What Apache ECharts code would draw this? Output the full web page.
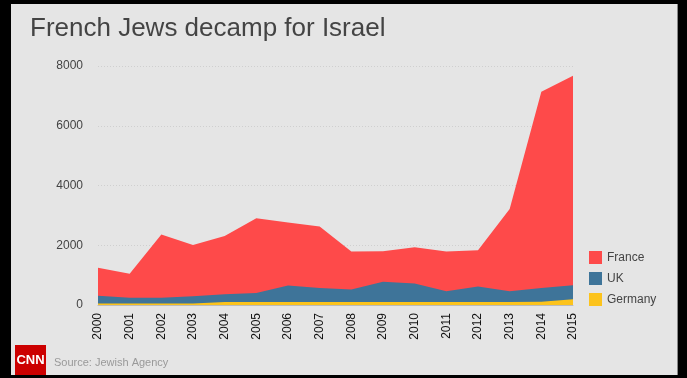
<!DOCTYPE html>
<html><head><meta charset="utf-8">
<script src="https://cdn.jsdelivr.net/npm/echarts@6/dist/echarts.min.js"></script>
<style>html,body{margin:0;padding:0;background:#000}#c{width:687px;height:378px}</style>
</head><body><div id="c"></div>
<script>
const years = ['2000','2001','2002','2003','2004','2005','2006','2007','2008','2009','2010','2011','2012','2013','2014','2015'];
const france = [1250,1050,2360,2010,2310,2900,2760,2630,1790,1800,1930,1790,1830,3210,7140,7670];
const uk = [310,240,240,290,360,400,650,570,520,780,720,460,620,460,570,660];
const germany = [50,50,50,50,100,100,100,100,100,100,100,100,100,100,110,190];
const yTicks = [0,2000,4000,6000,8000];

const chart = echarts.init(document.getElementById('c'), null, {renderer:'canvas'});
const font = 'Liberation Sans, Arial, sans-serif';
function areaSeries(name, data, color){
  return {name, type:'line', data, symbol:'none', color,
    lineStyle:{width:0}, areaStyle:{color, opacity:1}, itemStyle:{color}, silent:true};
}
chart.setOption({
  animation:false,
  backgroundColor:'#000',
  textStyle:{fontFamily:font},
  graphic:[
    {type:'rect', z:-10, shape:{x:11,y:4,width:667,height:371}, style:{fill:'#e5e5e5'}},
    {type:'rect', z:-9, shape:{x:677,y:4,width:1,height:371}, style:{fill:'#888'}},
    {type:'rect', shape:{x:15,y:345,width:31,height:30}, style:{fill:'#cc0000'}},
    {type:'text', style:{x:30.5,y:360,text:'CNN',fill:'#fff',font:'bold 13px Liberation Sans',align:'center',verticalAlign:'middle'}},
    {type:'text', style:{x:54,y:363,text:'Source: Jewish Agency',fill:'#999',font:'11px Liberation Sans',verticalAlign:'middle'}}
  ],
  title:{text:'French Jews decamp for Israel', left:25, top:11,
    textStyle:{fontFamily:font, fontSize:26, fontWeight:'normal', color:'#444'}},
  legend:{data:['France','UK','Germany'], orient:'vertical', left:584, top:246, icon:'rect',
    itemWidth:13, itemHeight:13, itemGap:8,
    textStyle:{fontFamily:font, fontSize:12, color:'#444'}},
  grid:{left:98, right:114, top:66, bottom:73},
  xAxis:{type:'category', data:years, boundaryGap:false,
    axisLine:{show:true, lineStyle:{color:'#bbb'}}, axisTick:{show:false},
    axisLabel:{rotate:90, fontSize:12, color:'#111', margin:8, fontFamily:font, interval:0}},
  yAxis:{type:'value', min:yTicks[0], max:yTicks[yTicks.length-1], interval:2000,
    axisLine:{show:false}, axisTick:{show:false},
    axisLabel:{fontSize:12, color:'#444', margin:15, fontFamily:font, formatter:v=>String(v)},
    splitLine:{lineStyle:{color:'#cfcfcf', type:[1,2], width:1}}},
  series:[areaSeries('France', france, '#fe4a4a'), areaSeries('UK', uk, '#3e7499'), areaSeries('Germany', germany, '#fcc31c')]
});
</script></body></html>
